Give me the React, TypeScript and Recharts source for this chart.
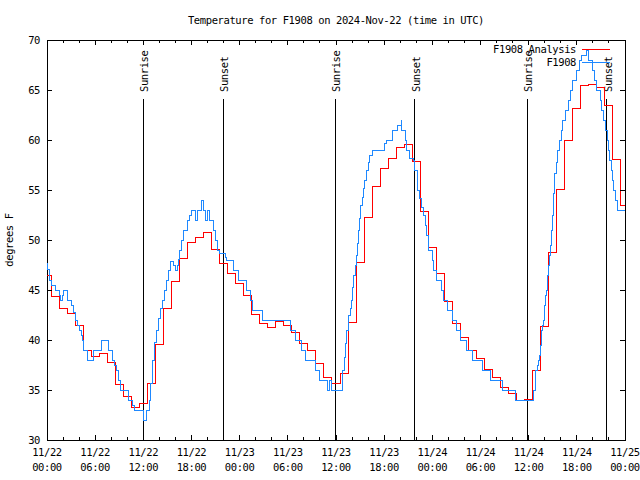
import React from 'react';
import { LineChart, Line, XAxis, YAxis, ReferenceLine, ReferenceArea } from 'recharts';

const chartTitle = 'Temperature for F1908 on 2024-Nov-22 (time in UTC)';

// hours since 2024-11-22 00:00 UTC
const xMajorHours = [0, 6, 12, 18, 24, 30, 36, 42, 48, 54, 60, 66, 72];
const xMajorLabels = [
  ['11/22', '00:00'], ['11/22', '06:00'], ['11/22', '12:00'], ['11/22', '18:00'],
  ['11/23', '00:00'], ['11/23', '06:00'], ['11/23', '12:00'], ['11/23', '18:00'],
  ['11/24', '00:00'], ['11/24', '06:00'], ['11/24', '12:00'], ['11/24', '18:00'],
  ['11/25', '00:00'],
];
const xAllTicks = Array.from({ length: 37 }, (_, i) => i * 2); // minor every 2h
const yTicks = [30, 35, 40, 45, 50, 55, 60, 65, 70];

const sunEvents = [
  { t: 12.0, label: 'Sunrise' },
  { t: 21.95, label: 'Sunset' },
  { t: 35.92, label: 'Sunrise' },
  { t: 45.8, label: 'Sunset' },
  { t: 59.83, label: 'Sunrise' },
  { t: 69.72, label: 'Sunset' },
];

// analysis: value at 00:00, then hourly values valid from hh:30
const analysisStart = 46.5;
const analysisHourly = [
  44.4, 43.2, 42.7, 41.5, 39.0, 38.4, 38.7, 37.8, 35.6, 34.4, 33.3, 33.7,
  35.7, 39.6, 43.2, 45.9, 48.2, 49.8, 50.3, 50.8, 49.1, 47.7, 46.7, 45.7,
  44.5, 42.6, 41.7, 41.3, 41.9, 41.5, 40.8, 39.7, 39.0, 37.7, 36.3, 35.7,
  36.7, 41.8, 47.8, 52.3, 55.4, 57.2, 58.2, 59.3, 59.6, 57.9, 52.9, 49.3,
  46.7, 43.9, 41.7, 40.3, 39.0, 38.2, 37.1, 36.3, 35.3, 34.7, 34.0, 34.1,
  37.0, 41.4, 48.8, 55.1, 60.0, 63.2, 65.5, 65.6, 65.3, 63.5, 58.1, 53.5,
];

// station observations [hour, degF]
const observations: [number, number][] = [
  [0, 47.7], [0.12, 47.1], [0.37, 46.0], [0.62, 45.5], [1.0, 45.0], [1.5, 44.5],
  [1.74, 44.0], [1.87, 44.5], [2.0, 45.0], [2.5, 44.0], [3.1, 43.5], [3.25, 42.8],
  [3.5, 42.0], [3.75, 41.5], [4.0, 41.0], [4.25, 40.5], [4.36, 40.0], [4.5, 39.0],
  [5.0, 38.0], [5.85, 39.0], [6.85, 40.0], [7.6, 39.0], [8.2, 38.0], [8.47, 37.5],
  [8.6, 37.0], [8.85, 36.0], [9.2, 35.0], [10.1, 34.0], [10.6, 33.5], [10.85, 33.0],
  [12.05, 32.0], [12.45, 33.0], [12.75, 34.0], [12.95, 35.7], [13.2, 38.0], [13.4, 39.8],
  [13.6, 41.0], [13.85, 42.2], [14.2, 43.2], [14.35, 44.0], [14.6, 45.0], [14.85, 46.0],
  [15.1, 47.0], [15.35, 47.9], [15.7, 47.5], [15.95, 47.0], [16.2, 47.5], [16.35, 48.1],
  [16.55, 49.0], [16.8, 50.0], [17.05, 51.0], [17.45, 52.0], [17.8, 52.5], [18.05, 53.0],
  [18.45, 52.0], [18.8, 53.0], [19.3, 54.0], [19.5, 53.0], [19.8, 52.0], [19.95, 53.0],
  [20.3, 52.0], [20.7, 51.0], [20.95, 50.0], [21.2, 49.0], [21.55, 48.7], [22.2, 48.3],
  [22.4, 48.0], [23.2, 47.0], [23.8, 46.0], [24.8, 45.0], [25.4, 44.0], [25.65, 43.0],
  [26.9, 42.0], [30.27, 41.0], [30.9, 40.0], [31.76, 39.0], [32.26, 38.0], [33.4, 37.0],
  [34.0, 36.0], [34.9, 35.0], [35.25, 36.0], [35.5, 35.0], [36.75, 36.0], [36.87, 37.0],
  [37.0, 38.3], [37.2, 39.7], [37.37, 41.0], [37.5, 42.5], [37.75, 43.2], [37.93, 44.0],
  [38.1, 45.3], [38.24, 46.5], [38.37, 47.5], [38.5, 48.5], [38.67, 49.7], [38.8, 51.0],
  [38.93, 52.2], [39.1, 53.5], [39.24, 54.3], [39.42, 55.2], [39.6, 56.0], [39.86, 57.0],
  [40.05, 57.8], [40.23, 58.5], [40.6, 59.0], [41.98, 59.7], [42.35, 60.0], [42.98, 61.0],
  [43.72, 61.5], [44.1, 62.0], [44.22, 61.0], [44.6, 60.0], [44.84, 59.0], [45.2, 58.2],
  [45.6, 58.0], [45.84, 57.0], [46.1, 56.0], [46.2, 55.0], [46.46, 54.2], [46.7, 53.3],
  [46.9, 52.5], [47.1, 51.5], [47.33, 50.5], [47.5, 49.0], [47.96, 48.0], [48.15, 47.0],
  [48.5, 46.0], [49.2, 45.0], [49.4, 44.0], [49.95, 43.0], [50.45, 42.0], [51.07, 41.0],
  [51.45, 40.0], [52.3, 39.0], [53.06, 38.0], [54.2, 37.0], [55.3, 36.0], [56.68, 35.0],
  [58.3, 34.0], [60.54, 34.5], [60.66, 35.0], [60.8, 36.0], [60.9, 37.0], [61.1, 37.5],
  [61.2, 38.0], [61.35, 38.5], [61.48, 39.5], [61.55, 40.5], [61.66, 41.0], [61.78, 41.5],
  [61.84, 42.0], [61.94, 42.5], [62.03, 43.5], [62.12, 44.5], [62.2, 45.0], [62.32, 46.5],
  [62.45, 47.5], [62.57, 48.5], [62.66, 49.5], [62.87, 51.0], [63.0, 52.5], [63.07, 53.7],
  [63.15, 54.7], [63.28, 56.7], [63.47, 57.8], [63.65, 59.0], [63.9, 60.0], [64.15, 61.0],
  [64.27, 62.0], [64.65, 63.0], [64.9, 64.0], [65.27, 65.0], [65.5, 66.0], [65.9, 67.0],
  [66.27, 68.0], [66.64, 68.5], [67.26, 69.0], [67.5, 68.0], [68.0, 67.0], [68.26, 66.0],
  [68.5, 65.0], [68.9, 64.0], [69.13, 63.0], [69.38, 62.0], [69.63, 61.0], [69.8, 60.0],
  [69.93, 59.0], [70.1, 58.0], [70.3, 57.0], [70.44, 56.0], [70.6, 55.0], [70.85, 54.0],
  [71.1, 53.0], [72, 53.0],
];

const analysisData = [
  { t: 0, v: analysisStart },
  ...analysisHourly.map((v, i) => ({ t: i + 0.5, v })),
  { t: 72, v: analysisHourly[analysisHourly.length - 1] },
];
const obsData = observations.map(([t, v]) => ({ t, v }));

const RED = '#ff0000';
const BLUE = '#1e88ff';
const FONT = '"DejaVu Sans Mono", "Liberation Mono", monospace';
const PLOT_TOP = 40;
const PLOT_RIGHT = 625;

const XTick = ({ x, y, payload }: any) => {
  const idx = xMajorHours.indexOf(payload.value);
  const len = idx >= 0 ? 5 : 3;
  return (
    <g shapeRendering="crispEdges">
      <line x1={x} y1={y} x2={x} y2={y - len} stroke="#000" />
      <line x1={x} y1={PLOT_TOP} x2={x} y2={PLOT_TOP + len} stroke="#000" />
      {idx >= 0 && (
        <text x={x} y={y} textAnchor="middle" fontFamily={FONT} fontSize={10.5} letterSpacing={-0.4} fill="#000">
          <tspan x={x} dy={16}>{xMajorLabels[idx][0]}</tspan>
          <tspan x={x} dy={15}>{xMajorLabels[idx][1]}</tspan>
        </text>
      )}
    </g>
  );
};

const YTick = ({ x, y, payload }: any) => (
  <g shapeRendering="crispEdges">
    <line x1={x} y1={y} x2={x + 5} y2={y} stroke="#000" />
    <line x1={PLOT_RIGHT} y1={y} x2={PLOT_RIGHT - 5} y2={y} stroke="#000" />
    <text x={x - 7} y={y} dy={4} textAnchor="end" fontFamily={FONT} fontSize={10.5} letterSpacing={-0.4} fill="#000">
      {payload.value}
    </text>
  </g>
);

const SunLabel = ({ viewBox, text }: any) => {
  const lx = viewBox.x + 5;
  const ly = viewBox.y - 7;
  return (
    <text x={lx} y={ly} transform={`rotate(-90 ${lx} ${ly})`} textAnchor="start" fontFamily={FONT} fontSize={10.5} letterSpacing={-0.4} fill="#000">
      {text}
    </text>
  );
};

const textStyle: React.CSSProperties = {
  position: 'absolute',
  fontFamily: FONT,
  fontSize: 10.5,
  letterSpacing: -0.4,
  color: '#000',
  whiteSpace: 'nowrap',
  lineHeight: '12px',
};

export default function App() {
  return (
    <div style={{ position: 'absolute', left: 0, top: 0, width: 640, height: 480, background: '#fff' }}>
      <LineChart width={640} height={480} margin={{ top: 40, right: 0, bottom: 0, left: 0 }}>
        <XAxis
          type="number"
          dataKey="t"
          domain={[0, 72]}
          ticks={xAllTicks}
          interval={0}
          tick={<XTick />}
          tickLine={false}
          tickSize={0}
          tickMargin={0}
          axisLine={false}
          height={40}
          allowDataOverflow
        />
        <YAxis
          type="number"
          domain={[30, 70]}
          ticks={yTicks}
          interval={0}
          tick={<YTick />}
          tickLine={false}
          tickSize={0}
          tickMargin={0}
          axisLine={false}
          width={47}
          allowDataOverflow
        />
        <YAxis yAxisId="r" orientation="right" width={15} tick={false} axisLine={false} tickLine={false} />
        {sunEvents.map((e, i) => (
          <ReferenceLine
            key={i}
            segment={[{ x: e.t, y: 30 }, { x: e.t, y: 64.1 }]}
            stroke="#000"
            strokeWidth={1}
            shapeRendering="crispEdges"
            label={<SunLabel text={e.label} />}
          />
        ))}
        <Line
          data={analysisData}
          dataKey="v"
          type="stepAfter"
          stroke={RED}
          strokeWidth={1}
          shapeRendering="crispEdges"
          dot={false}
          isAnimationActive={false}
        />
        <Line
          data={obsData}
          dataKey="v"
          type="stepAfter"
          stroke={BLUE}
          strokeWidth={1}
          shapeRendering="crispEdges"
          dot={false}
          isAnimationActive={false}
        />
        <ReferenceArea
          x1={0}
          x2={72}
          y1={30}
          y2={70}
          fill="none"
          stroke="#000"
          strokeWidth={1}
          shapeRendering="crispEdges"
          ifOverflow="visible"
        />
      </LineChart>

      <div style={{ ...textStyle, left: 47, width: 578, top: 14, textAlign: 'center' }}>{chartTitle}</div>

      <div style={{ ...textStyle, left: 0, top: 234, width: 60, textAlign: 'center', transform: 'translate(-21px, 0) rotate(-90deg)' }}>
        degrees F
      </div>

      <div style={{ ...textStyle, right: 640 - 576, top: 43, textAlign: 'right' }}>F1908 Analysis</div>
      <div style={{ position: 'absolute', left: 582, top: 49, width: 28, height: 1, background: RED }} />
      <div style={{ ...textStyle, right: 640 - 576, top: 56, textAlign: 'right' }}>F1908</div>
      <div style={{ position: 'absolute', left: 582, top: 62, width: 28, height: 1, background: BLUE }} />
    </div>
  );
}
